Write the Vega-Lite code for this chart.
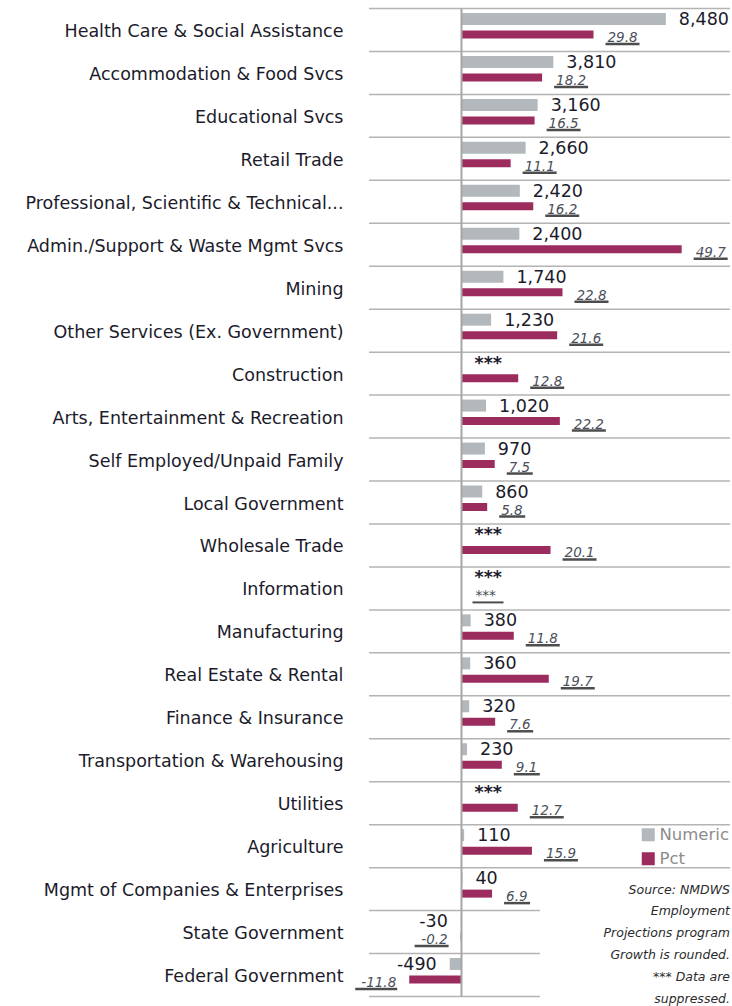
{
  "$schema": "https://vega.github.io/schema/vega-lite/v6.json",
  "width": 361,
  "height": 988,
  "autosize": {"type": "none"},
  "padding": {"left": 369, "top": 8.5, "right": 2, "bottom": 9.5},
  "background": "white",
  "config": {"view": {"stroke": null}, "font": "DejaVu Sans",
             "locale": {"number": {"decimal": ".", "thousands": ",", "grouping": [3], "currency": ["$", ""], "minus": "-"}}},
  "data": {"values": [
    {"Category": "Health Care & Social Assistance", "Numeric": 8480, "Pct": 29.8},
    {"Category": "Accommodation & Food Svcs", "Numeric": 3810, "Pct": 18.2},
    {"Category": "Educational Svcs", "Numeric": 3160, "Pct": 16.5},
    {"Category": "Retail Trade", "Numeric": 2660, "Pct": 11.1},
    {"Category": "Professional, Scientific & Technical...", "Numeric": 2420, "Pct": 16.2},
    {"Category": "Admin./Support & Waste Mgmt Svcs", "Numeric": 2400, "Pct": 49.7},
    {"Category": "Mining", "Numeric": 1740, "Pct": 22.8},
    {"Category": "Other Services (Ex. Government)", "Numeric": 1230, "Pct": 21.6},
    {"Category": "Construction", "Numeric": null, "Pct": 12.8},
    {"Category": "Arts, Entertainment & Recreation", "Numeric": 1020, "Pct": 22.2},
    {"Category": "Self Employed/Unpaid Family", "Numeric": 970, "Pct": 7.5},
    {"Category": "Local Government", "Numeric": 860, "Pct": 5.8},
    {"Category": "Wholesale Trade", "Numeric": null, "Pct": 20.1},
    {"Category": "Information", "Numeric": null, "Pct": null},
    {"Category": "Manufacturing", "Numeric": 380, "Pct": 11.8},
    {"Category": "Real Estate & Rental", "Numeric": 360, "Pct": 19.7},
    {"Category": "Finance & Insurance", "Numeric": 320, "Pct": 7.6},
    {"Category": "Transportation & Warehousing", "Numeric": 230, "Pct": 9.1},
    {"Category": "Utilities", "Numeric": null, "Pct": 12.7},
    {"Category": "Agriculture", "Numeric": 110, "Pct": 15.9},
    {"Category": "Mgmt of Companies & Enterprises", "Numeric": 40, "Pct": 6.9},
    {"Category": "State Government", "Numeric": -30, "Pct": -0.2},
    {"Category": "Federal Government", "Numeric": -490, "Pct": -11.8}
  ]},
  "title": {
    "text": ["Source: NMDWS", "Employment", "Projections program", "Growth is rounded.", "*** Data are", "suppressed."],
    "orient": "bottom", "anchor": "end", "frame": "group", "offset": -114,
    "font": "DejaVu Sans", "fontSize": 12.5, "fontStyle": "italic", "fontWeight": "normal",
    "lineHeight": 21.8, "color": "#2b2b2b"
  },
  "layer": [
    {
      "transform": [{"filter": {"not": {"field": "Category", "oneOf": ["State Government", "Federal Government"]}}}],
      "mark": {"type": "rule", "color": "#b4b4b4", "strokeWidth": 1.5},
      "encoding": {
        "y": {"field": "Category", "type": "nominal", "bandPosition": 0,
              "scale": {"type": "band", "paddingInner": 0, "paddingOuter": 0,
                        "domain": ["Health Care & Social Assistance", "Accommodation & Food Svcs", "Educational Svcs", "Retail Trade", "Professional, Scientific & Technical...", "Admin./Support & Waste Mgmt Svcs", "Mining", "Other Services (Ex. Government)", "Construction", "Arts, Entertainment & Recreation", "Self Employed/Unpaid Family", "Local Government", "Wholesale Trade", "Information", "Manufacturing", "Real Estate & Rental", "Finance & Insurance", "Transportation & Warehousing", "Utilities", "Agriculture", "Mgmt of Companies & Enterprises", "State Government", "Federal Government"]},
              "axis": {"title": null, "domain": false, "ticks": false, "grid": false,
                       "labelFont": "DejaVu Sans", "labelFontSize": 17.5, "labelColor": "#1b1b2b",
                       "labelPadding": 26, "labelLimit": 400, "labelOffset": 2}},
        "x": {"datum": -3838, "type": "quantitative", "scale": {"domain": [-3838, 11141]}, "axis": null},
        "x2": {"datum": 11141}
      }
    },
    {
      "transform": [{"filter": {"field": "Category", "oneOf": ["State Government", "Federal Government"]}}],
      "mark": {"type": "rule", "color": "#b4b4b4", "strokeWidth": 1.5},
      "encoding": {
        "y": {"field": "Category", "type": "nominal", "bandPosition": 0},
        "x": {"datum": -3838, "type": "quantitative", "scale": {"domain": [-3838, 11141]}, "axis": null},
        "x2": {"datum": 3257}
      }
    },
    {
      "transform": [{"filter": {"field": "Category", "equal": "Federal Government"}}],
      "mark": {"type": "rule", "color": "#b4b4b4", "strokeWidth": 1.5},
      "encoding": {
        "y": {"field": "Category", "type": "nominal", "bandPosition": 1},
        "x": {"datum": -3838, "type": "quantitative", "scale": {"domain": [-3838, 11141]}, "axis": null},
        "x2": {"datum": 3257}
      }
    },
    {
      "mark": {"type": "bar", "size": 12, "yOffset": -11},
      "encoding": {
        "y": {"field": "Category", "type": "nominal"},
        "x": {"field": "Numeric", "type": "quantitative", "scale": {"domain": [-3838, 11141]}, "axis": null},
        "color": {"datum": "Numeric", "type": "nominal",
                  "scale": {"domain": ["Numeric", "Pct"], "range": ["#b2b8bb", "#9c2b5e"]},
                  "legend": {"title": null, "orient": "none", "legendX": 271, "legendY": 818,
                             "symbolType": "square", "symbolSize": 169, "symbolStrokeWidth": 0,
                             "labelFont": "DejaVu Sans", "labelFontSize": 16.5, "labelColor": "#8c8c8c",
                             "labelOffset": 3, "rowPadding": 7, "padding": 0}}
      }
    },
    {
      "mark": {"type": "bar", "size": 8, "yOffset": 4.5},
      "encoding": {
        "y": {"field": "Category", "type": "nominal"},
        "x": {"field": "Pct", "type": "quantitative", "scale": {"domain": [-20.88, 60.61]}, "axis": null},
        "color": {"datum": "Pct", "type": "nominal"}
      }
    },
    {
      "mark": {"type": "text", "align": {"expr": "datum.Numeric < 0 ? 'right' : 'left'"},
               "dx": {"expr": "datum.Numeric < 0 ? -13 : 13"}, "yOffset": -10, "baseline": "middle",
               "fontWeight": {"expr": "datum.Numeric === null ? 'bold' : 'normal'"},
               "font": "DejaVu Sans", "fontSize": 17.5, "color": "#1b1b2b", "invalid": "show"},
      "encoding": {
        "y": {"field": "Category", "type": "nominal"},
        "x": {"field": "Numeric", "type": "quantitative", "scale": {"domain": [-3838, 11141]}, "axis": null},
        "text": {"condition": {"test": "datum.Numeric === null", "value": "***"}, "field": "Numeric", "type": "quantitative", "format": ","}
      }
    },
    {
      "mark": {"type": "text", "align": {"expr": "datum.Pct < 0 ? 'right' : 'left'"},
               "dx": {"expr": "datum.Pct < 0 ? -13 : 14"}, "yOffset": 8, "baseline": "middle",
               "font": "DejaVu Sans", "fontSize": 13.5, "fontStyle": "italic", "color": "#4a4f5a", "invalid": "show"},
      "encoding": {
        "y": {"field": "Category", "type": "nominal"},
        "x": {"field": "Pct", "type": "quantitative", "scale": {"domain": [-20.88, 60.61]}, "axis": null},
        "text": {"condition": {"test": "datum.Pct === null", "value": "***"}, "field": "Pct", "type": "quantitative", "format": ".1f"}
      }
    },
    {
      "mark": {"type": "rule", "color": "#4d4d4d", "strokeWidth": 2.5, "yOffset": 14,
               "xOffset": {"expr": "datum.Pct < 0 ? -14 - 8 * length(format(datum.Pct, '.1f')) : 12"},
               "x2Offset": {"expr": "datum.Pct < 0 ? -12 : 14 + 8 * length(format(datum.Pct, '.1f'))"}},
      "encoding": {
        "y": {"field": "Category", "type": "nominal"},
        "x": {"field": "Pct", "type": "quantitative", "scale": {"domain": [-20.88, 60.61]}, "axis": null},
        "x2": {"field": "Pct"}
      }
    },
    {
      "transform": [{"filter": "datum.Pct === null"}],
      "mark": {"type": "rule", "color": "#4d4d4d", "strokeWidth": 2, "yOffset": 14, "xOffset": 11, "x2Offset": 42},
      "encoding": {
        "y": {"field": "Category", "type": "nominal"},
        "x": {"datum": 0, "type": "quantitative", "scale": {"domain": [-20.88, 60.61]}, "axis": null},
        "x2": {"datum": 0}
      }
    },
    {
      "data": {"values": [{}]},
      "mark": {"type": "rule", "color": "#a6a6a6", "strokeWidth": 2},
      "encoding": {
        "x": {"datum": 0, "type": "quantitative", "scale": {"domain": [-3838, 11141]}, "axis": null}
      }
    }
  ],
  "resolve": {"scale": {"x": "independent"}}
}
